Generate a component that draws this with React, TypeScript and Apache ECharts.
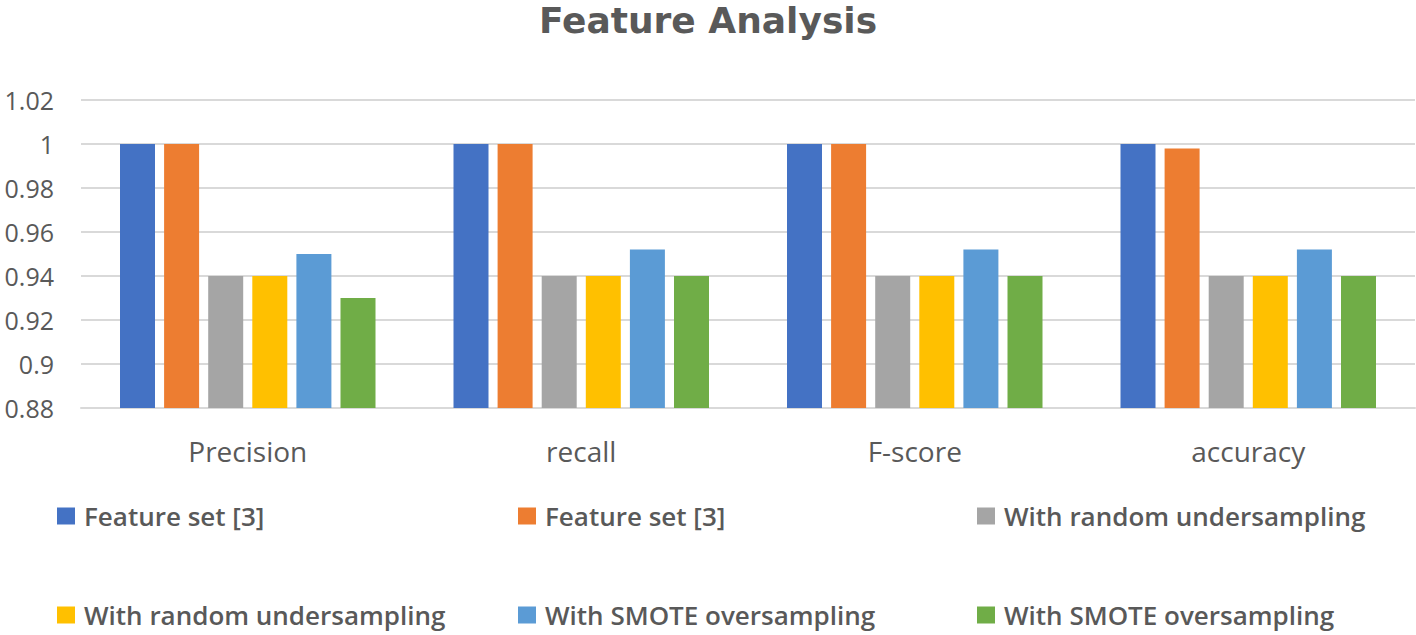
import React, { useEffect, useRef } from "react";
import * as echarts from "echarts";

const categories = ["Precision", "recall", "F-score", "accuracy"];
const seriesLabels = [
  "Feature set [3]",
  "Feature set [3]",
  "With random undersampling",
  "With random undersampling",
  "With SMOTE oversampling",
  "With SMOTE oversampling",
];
const seriesColors = ["#4472C4", "#ED7D31", "#A5A5A5", "#FFC000", "#5B9BD5", "#70AD47"];
const featureSetA = [1, 1, 1, 1];
const featureSetB = [1, 1, 1, 0.998];
const randomUnderA = [0.94, 0.94, 0.94, 0.94];
const randomUnderB = [0.94, 0.94, 0.94, 0.94];
const smoteOverA = [0.95, 0.952, 0.952, 0.952];
const smoteOverB = [0.93, 0.94, 0.94, 0.94];
const seriesValues = [featureSetA, featureSetB, randomUnderA, randomUnderB, smoteOverA, smoteOverB];
const yTicks = { min: 0.88, max: 1.02, interval: 0.02 };

const legendPos = [
  { left: 52, top: 498 },
  { left: 513, top: 498 },
  { left: 972, top: 498 },
  { left: 52, top: 597 },
  { left: 513, top: 597 },
  { left: 972, top: 597 },
];

export default function App() {
  const ref = useRef<HTMLDivElement>(null);
  useEffect(() => {
    if (!ref.current) return;
    const chart = echarts.init(ref.current, null, { renderer: "svg" });
    const keys = seriesLabels.map((_, i) => "s" + i);
    chart.setOption({
      animation: false,
      backgroundColor: "#ffffff",
      title: {
        text: "Feature Analysis",
        left: "center",
        top: -3,
        textStyle: { fontFamily: "DejaVu Sans", fontSize: 36, fontWeight: "bold", color: "#595959" },
      },
      legend: keys.map((k, i) => ({
        data: [k],
        left: legendPos[i].left,
        top: legendPos[i].top,
        itemWidth: 18,
        itemHeight: 17,
        icon: "rect",
        formatter: () => seriesLabels[i],
        textStyle: {
          fontFamily: "Open Sans",
          fontSize: 26,
          fontWeight: 600,
          color: "#595959",
          padding: [0, 0, 0, 4],
        },
        selectedMode: false,
      })),
      grid: { left: 81, right: 1, top: 100, bottom: 227 },
      xAxis: {
        type: "category",
        data: categories,
        axisTick: { show: false },
        axisLine: { lineStyle: { color: "#d9d9d9", width: 2 } },
        axisLabel: { fontFamily: "Open Sans", fontSize: 28, color: "#595959", margin: 29 },
      },
      yAxis: {
        type: "value",
        min: yTicks.min,
        max: yTicks.max,
        interval: yTicks.interval,
        axisLine: { show: false },
        axisTick: { show: false },
        splitLine: { lineStyle: { color: "#d9d9d9", width: 2 } },
        axisLabel: { fontFamily: "Open Sans", fontSize: 25, color: "#595959", margin: 27 },
      },
      series: keys.map((k, i) => ({
        name: k,
        type: "bar",
        data: seriesValues[i],
        barWidth: 35,
        barGap: "26%",
        itemStyle: { color: seriesColors[i] },
      })),
    });
    return () => chart.dispose();
  }, []);
  return (
    <div
      ref={ref}
      style={{ position: "fixed", left: 0, top: 0, width: 1416, height: 635 }}
    />
  );
}
